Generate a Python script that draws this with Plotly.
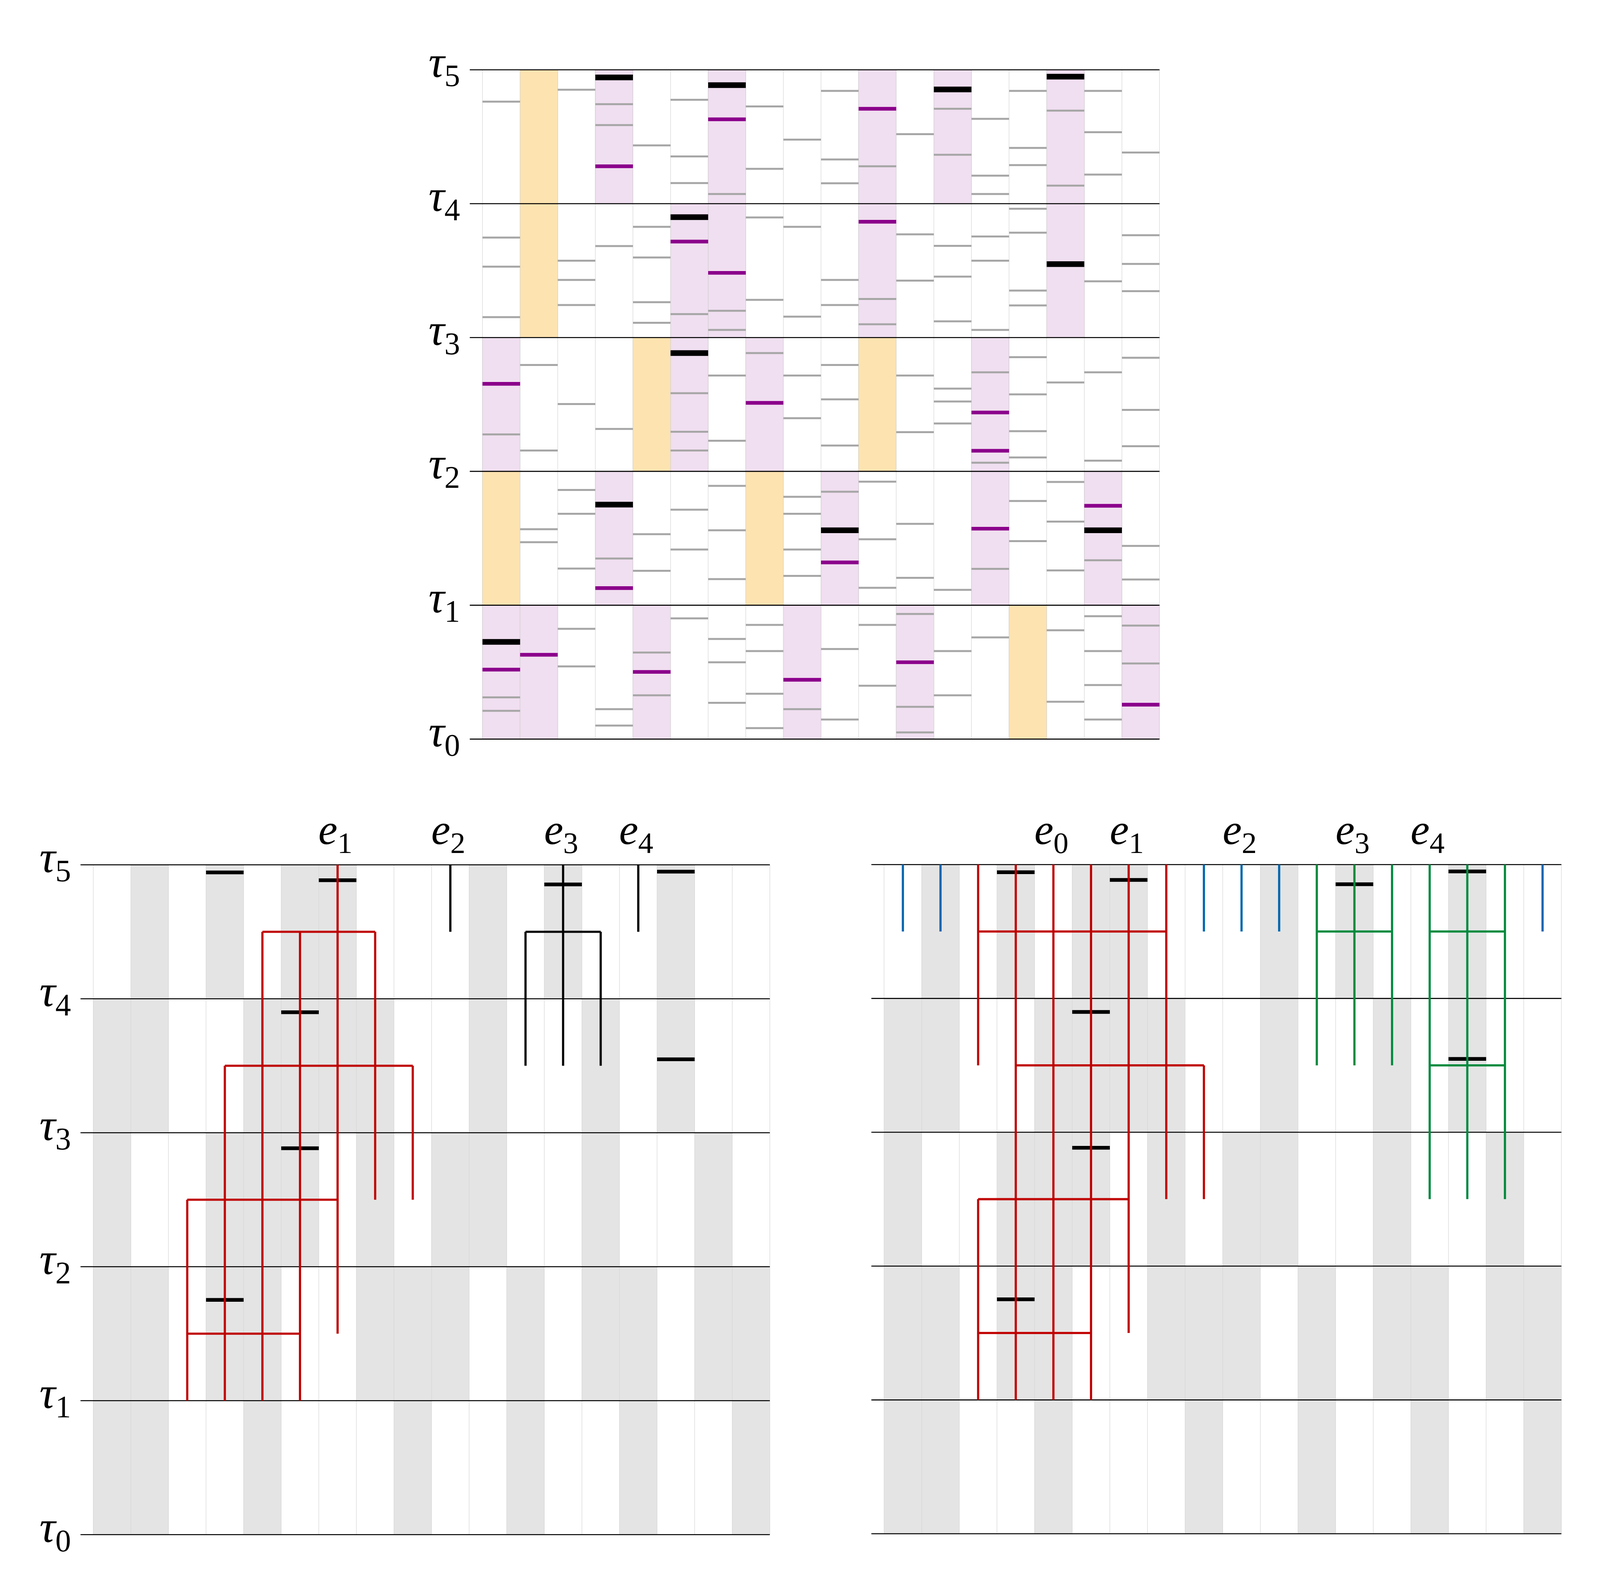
import plotly.graph_objects as go

# ---------------- data ----------------
TAU = [0, 1, 2, 3, 4, 5]
N_COLS = 18

# top panel: highlighted cells (column, row)
pink_col = [0, 1, 4, 8, 11, 17, 3, 9, 13, 16, 0, 5, 7, 13, 5, 6, 10, 15, 3, 6, 10, 12, 15]
pink_row = [0, 0, 0, 0, 0, 0, 1, 1, 1, 1, 2, 2, 2, 2, 3, 3, 3, 3, 4, 4, 4, 4, 4]
orange_col = [14, 0, 7, 4, 10, 1, 1]
orange_row = [0, 1, 1, 2, 2, 3, 4]

# top panel: tick positions per column (in tau units)
gray_ticks = [
    [4.762, 3.747, 3.529, 3.152, 2.276, 0.312, 0.211],
    [2.795, 2.156, 1.568, 1.471],
    [4.851, 3.574, 3.430, 3.243, 2.503, 1.861, 1.683, 1.274, 0.824, 0.543],
    [4.743, 4.587, 3.683, 2.317, 1.349, 0.224, 0.101],
    [4.435, 3.827, 3.598, 3.264, 3.110, 1.531, 1.257, 0.647, 0.327],
    [4.776, 4.353, 4.154, 3.175, 2.584, 2.296, 2.156, 1.714, 1.416, 0.902],
    [4.072, 3.200, 3.057, 2.716, 2.229, 1.892, 1.560, 1.195, 0.748, 0.574, 0.271],
    [4.726, 4.260, 3.897, 3.281, 2.884, 0.853, 0.658, 0.339, 0.082],
    [4.478, 3.827, 3.156, 2.716, 2.397, 1.810, 1.683, 1.416, 1.219, 0.224],
    [4.842, 4.330, 4.152, 3.430, 3.243, 2.795, 2.538, 2.193, 1.848, 0.673, 0.146],
    [4.279, 3.288, 3.099, 1.923, 1.493, 1.130, 0.853, 0.399],
    [4.519, 3.771, 3.425, 2.716, 2.293, 1.608, 1.205, 0.935, 0.241, 0.050],
    [4.709, 4.365, 3.685, 3.455, 3.121, 2.618, 2.522, 2.358, 1.115, 0.658, 0.327],
    [4.634, 4.209, 4.072, 3.755, 3.574, 3.057, 2.740, 2.065, 1.272, 0.760],
    [4.842, 4.416, 4.288, 3.962, 3.783, 3.351, 3.240, 2.853, 2.575, 2.300, 2.104, 1.779, 1.479],
    [4.695, 4.135, 2.664, 1.921, 1.625, 1.260, 0.813, 0.279],
    [4.842, 4.534, 4.217, 3.420, 2.740, 2.080, 1.336, 0.918, 0.658, 0.404, 0.146],
    [4.382, 3.764, 3.550, 3.346, 2.849, 2.459, 2.188, 1.443, 1.192, 0.848, 0.565],
]
purple_col = [0, 0, 1, 3, 3, 4, 5, 6, 6, 7, 8, 9, 10, 10, 11, 13, 13, 13, 16, 17]
purple_val = [2.654, 0.519, 0.630, 4.279, 1.128, 0.502, 3.717, 4.630, 3.483, 2.512,
              0.443, 1.320, 4.709, 3.865, 0.574, 2.440, 2.154, 1.572, 1.743, 0.257]
black_col = [0, 3, 3, 5, 5, 6, 9, 12, 15, 15, 16]
black_val = [0.726, 4.943, 1.752, 3.899, 2.884, 4.885, 1.560, 4.853, 4.949, 3.548, 1.560]

# bottom panels: shaded columns per row, black ticks
shade_rows = [
    [0, 1, 4, 8, 11, 14, 17],
    [0, 1, 3, 4, 7, 8, 9, 11, 13, 14, 16, 17],
    [0, 3, 4, 5, 7, 9, 10, 13, 16],
    [0, 1, 4, 5, 6, 7, 10, 13, 15],
    [1, 3, 5, 6, 10, 12, 15],
]
low_black_col = [3, 6, 12, 15, 5, 15, 5, 3]
low_black_val = [4.943, 4.885, 4.853, 4.949, 3.899, 3.548, 2.884, 1.752]

# trees: vertical (col, top, bottom), horizontal (level, col_from, col_to)
left_red_v = [(6, 5, 1.5), (4, 4.5, 1), (5, 4.5, 1), (7, 4.5, 2.5), (3, 3.5, 1), (8, 3.5, 2.5), (2, 2.5, 1)]
left_red_h = [(4.5, 4, 7), (3.5, 3, 8), (2.5, 2, 6), (1.5, 2, 5)]
left_black_v = [(9, 5, 4.5), (12, 5, 3.5), (11, 4.5, 3.5), (13, 4.5, 3.5), (14, 5, 4.5)]
left_black_h = [(4.5, 11, 13)]
left_labels = [(6, "1"), (9, "2"), (12, "3"), (14, "4")]

right_blue_v = [(0, 5, 4.5), (1, 5, 4.5), (8, 5, 4.5), (9, 5, 4.5), (10, 5, 4.5), (17, 5, 4.5)]
right_red_v = [(2, 5, 3.5), (3, 5, 1), (4, 5, 1), (5, 5, 1), (6, 5, 1.5), (7, 5, 2.5), (8, 3.5, 2.5), (2, 2.5, 1)]
right_red_h = [(4.5, 2, 7), (3.5, 3, 8), (2.5, 2, 6), (1.5, 2, 5)]
right_green_v = [(11, 5, 3.5), (12, 5, 3.5), (13, 5, 3.5), (14, 5, 2.5), (15, 5, 2.5), (16, 5, 2.5)]
right_green_h = [(4.5, 11, 13), (4.5, 14, 16), (3.5, 14, 16)]
right_labels = [(4, "0"), (6, "1"), (9, "2"), (12, "3"), (14, "4")]

# ---------------- style / geometry ----------------
W, H = 4640, 4048          # reference picture size
SX = 4096 / 4640           # the page is 4096 css px wide, same height
FONT = "Liberation Serif"
FS_TAU = 114
FS_E = 110
X_LO, X_HI = -0.34, 18.03
Y_LO, Y_HI = -0.04, 5.04
PINK, PINK_EDGE = "#f0dff0", "#ddc6dd"
ORANGE, ORANGE_EDGE = "#fde3b0", "#f3d394"
SHADE = "#e4e4e4"
RED, GREEN, BLUE = "#c00000", "#008a3e", "#0066b0"

# pixel boxes in the reference: (grid left, grid right, tau5 y, tau0 y)
boxes = {
    "": (1399.2, 3362.6, 178.7, 1892.4),
    "2": (270.5, 2232.5, 2214.2, 3929.2),
    "3": (2563.8, 4528.0, 2213.7, 3927.0),
}


def domains(box):
    x0, x1, yt, yb = box
    ux = (x1 - x0) / N_COLS
    uy = (yb - yt) / 5
    dx = [(x0 + X_LO * ux) / W, (x0 + X_HI * ux) / W]
    dy = [1 - (yb - Y_LO * uy) / H, 1 - (yt - (Y_HI - 5) * uy) / H]
    return dx, dy


def hsegs(cols, vals):
    xs, ys = [], []
    for c, v in zip(cols, vals):
        xs += [c, c + 1, None]
        ys += [v, v, None]
    return xs, ys


def tree_xy(vert, horiz):
    xs, ys = [], []
    for c, a, b in vert:
        xs += [c + 0.5, c + 0.5, None]
        ys += [a, b, None]
    for lv, a, b in horiz:
        xs += [a + 0.5, b + 0.5, None]
        ys += [lv, lv, None]
    return xs, ys


fig = go.Figure()


def add_line(xs, ys, color, width, ax):
    fig.add_trace(go.Scatter(x=xs, y=ys, mode="lines", line=dict(color=color, width=width),
                             xaxis="x" + ax, yaxis="y" + ax, hoverinfo="skip", showlegend=False))


def add_cells(cols, rows, color, edge, edge_w, ax):
    fig.add_trace(go.Bar(x=[c + 0.5 for c in cols], y=[1] * len(cols), base=rows, width=1,
                         marker=dict(color=color, line=dict(color=edge, width=edge_w)),
                         xaxis="x" + ax, yaxis="y" + ax, hoverinfo="skip", showlegend=False))


def add_frame(ax):
    xs, ys = [], []
    for c in range(N_COLS + 1):
        xs += [c, c, None]
        ys += [0, 5, None]
    add_line(xs, ys, "#d6d6d6", 1.4 * SX, ax)


def add_tau_lines(ax):
    xs, ys = [], []
    for k in TAU:
        xs += [X_LO, N_COLS, None]
        ys += [k, k, None]
    add_line(xs, ys, "black", 2.6, ax)


# ---- top panel ----
add_cells(pink_col, pink_row, PINK, PINK_EDGE, 1.4, "")
add_cells(orange_col, orange_row, ORANGE, ORANGE_EDGE, 1.4, "")
add_frame("")
gc, gv = [], []
for c, vals in enumerate(gray_ticks):
    gc += [c] * len(vals)
    gv += vals
add_line(*hsegs(gc, gv), "#a6a6a6", 5, "")
add_line(*hsegs(purple_col, purple_val), "#8b008b", 9.4, "")
add_line(*hsegs(black_col, black_val), "black", 14.5, "")
add_tau_lines("")

# ---- bottom panels ----
for ax in ["2", "3"]:
    sc, sr = [], []
    for r, cols in enumerate(shade_rows):
        sc += cols
        sr += [r] * len(cols)
    add_cells(sc, sr, SHADE, SHADE, 0, ax)
    add_frame(ax)
    add_tau_lines(ax)
    add_line(*hsegs(low_black_col, low_black_val), "black", 9.5, ax)

TREE_W = 5.6
add_line(*tree_xy(left_red_v, left_red_h), RED, TREE_W, "2")
add_line(*tree_xy(left_black_v, left_black_h), "black", TREE_W, "2")
add_line(*tree_xy(right_blue_v, []), BLUE, TREE_W, "3")
add_line(*tree_xy(right_red_v, right_red_h), RED, TREE_W, "3")
add_line(*tree_xy(right_green_v, right_green_h), GREEN, TREE_W, "3")

annotations = []
for ax in ["", "2"]:
    for k in TAU:
        annotations.append(dict(x=X_LO, y=k, xref="x" + ax, yref="y" + ax, xanchor="right",
                                yanchor="middle", xshift=-25 * SX, yshift=12, showarrow=False,
                                text="<i>τ</i><sub>%d</sub>" % k,
                                font=dict(family=FONT, size=FS_TAU, color="black")))
for ax, labels in [("2", left_labels), ("3", right_labels)]:
    for c, s in labels:
        annotations.append(dict(x=c + 0.5, y=5, xref="x" + ax, yref="y" + ax, xanchor="center",
                                yanchor="middle", xshift=-6 * SX, yshift=82, showarrow=False,
                                text="<i>e</i><sub>%s</sub>" % s,
                                font=dict(family=FONT, size=FS_E, color="black")))

layout = dict(margin=dict(l=0, r=0, t=0, b=0), autosize=True,
              paper_bgcolor="white", plot_bgcolor="white", barmode="overlay",
              showlegend=False, annotations=annotations)
for ax, box in boxes.items():
    dx, dy = domains(box)
    layout["xaxis" + ax] = dict(domain=dx, range=[X_LO, X_HI], visible=False, fixedrange=True,
                                anchor="y" + ax)
    layout["yaxis" + ax] = dict(domain=dy, range=[Y_LO, Y_HI], anchor="x" + ax, visible=False,
                                fixedrange=True)
fig.update_layout(**layout)

fig.write_html("out.html", default_width="100vw", default_height="100vh",
               config={"displayModeBar": False},
               post_script="document.body.style.margin='0';")
